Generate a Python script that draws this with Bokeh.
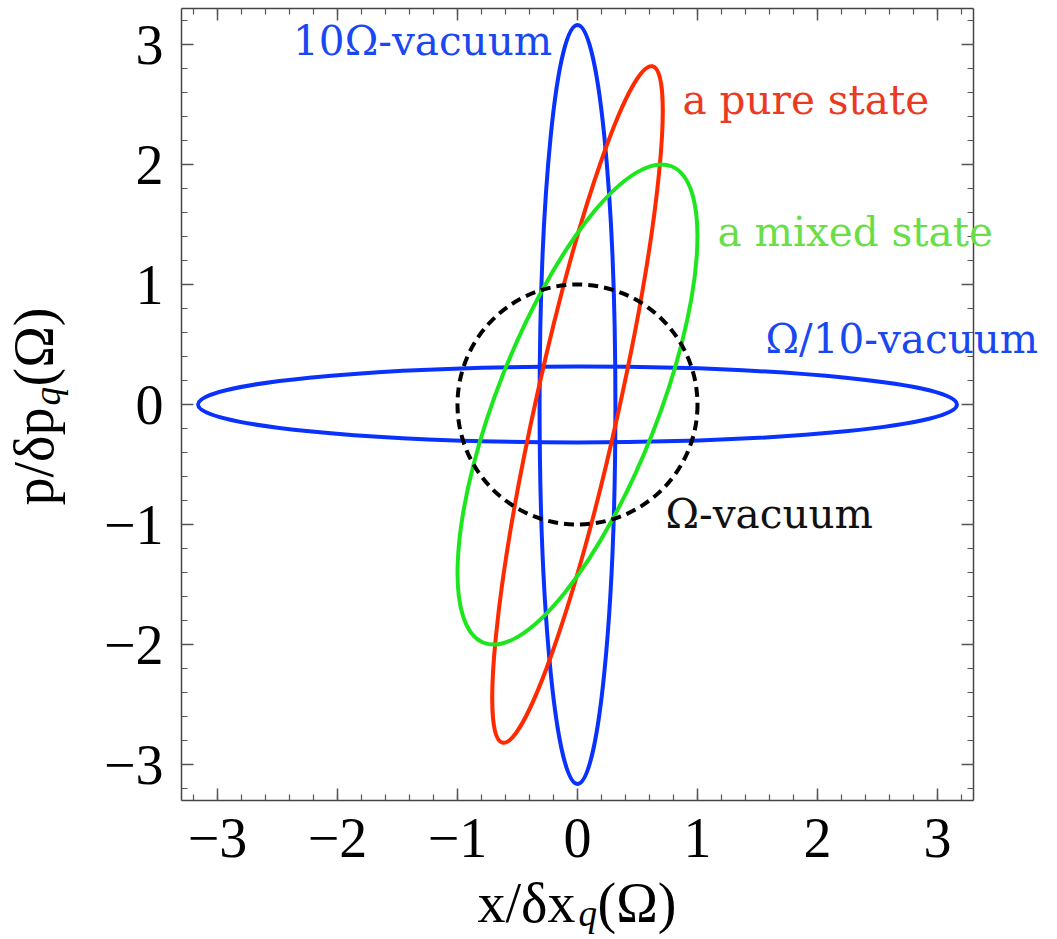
import numpy as np
from bokeh.plotting import figure
from bokeh.models import Range1d, LinearAxis, FixedTicker, Label, CustomJSTickFormatter
from bokeh.embed import file_html
from bokeh.resources import INLINE

# ---- data: uncertainty ellipses (semi-axes in units of the Omega-vacuum) ----
state_names = ["10Ω-vacuum", "Ω/10-vacuum", "a pure state", "a mixed state", "Ω-vacuum"]
semi_axis_a = [3.162, 3.162, 2.887, 2.134, 1.0]     # along the rotated axis
semi_axis_b = [0.316, 0.316, 0.346, 0.669, 1.0]
tilt_deg = [90.0, 0.0, 77.5, 68.5, 0.0]
line_colors = ["#0a32ff", "#0a32ff", "#ff2a00", "#1ee61e", "#000000"]
text_colors = ["#1a48f0", "#1a48f0", "#ea3a22", "#6ade48", "#111111"]
dashes = ["solid", "solid", "solid", "solid", "10 6"]

# label anchors (data coords, left/baseline)
label_x = [-2.37, 1.567, 0.875, 1.167, 0.733]
label_y = [2.906, 0.43, 2.42, 1.32, -1.03]

major_ticks = [-3, -2, -1, 0, 1, 2, 3]
minor_ticks = [round(v, 1) for v in np.arange(-3.2, 3.21, 0.2)]

# plotted box (data) and its place on the page (px)
BOX = (-3.3, 3.3)
W, H = 1057, 939
BOX_L, BOX_R, BOX_T, BOX_B = 181, 973, 8, 800
PPU = (BOX_R - BOX_L) / (BOX[1] - BOX[0])   # px per unit, same on both axes

x_start = BOX[0] - BOX_L / PPU
x_end = BOX[1] + (W - BOX_R) / PPU
y_end = BOX[1] + BOX_T / PPU
y_start = BOX[0] - (H - BOX_B) / PPU

SERIF = "Liberation Serif"
LABEL_FONT = "DejaVu Serif"
BASE_FIX = 0.355   # em; correction for where the renderer places the baseline

p = figure(width=W, height=H, output_backend="svg", toolbar_location=None,
           x_range=Range1d(x_start, x_end), y_range=Range1d(y_start, y_end),
           min_border=0, min_border_left=0, min_border_right=0,
           min_border_top=0, min_border_bottom=0,
           x_axis_type=None, y_axis_type=None)
p.background_fill_color = "white"
p.border_fill_color = "white"
p.outline_line_color = None
p.xgrid.visible = False
p.ygrid.visible = False

fmt = CustomJSTickFormatter(code="return tick < 0 ? '\\u2212' + (-tick) : '' + tick;")
blank = CustomJSTickFormatter(code="return '';")

def make_axis(show_labels, loc):
    ax = LinearAxis(ticker=FixedTicker(ticks=major_ticks, minor_ticks=minor_ticks),
                    formatter=fmt if show_labels else blank,
                    fixed_location=loc, bounds=BOX)
    ax.major_tick_in = 12
    ax.major_tick_out = 0
    ax.minor_tick_in = 6
    ax.minor_tick_out = 0
    ax.major_tick_line_color = "#555555"
    ax.minor_tick_line_color = "#555555"
    ax.major_tick_line_width = 1.5
    ax.minor_tick_line_width = 1.2
    ax.axis_line_color = "#444444"
    ax.axis_line_width = 1.5
    if show_labels:
        ax.major_label_text_font = SERIF
        ax.major_label_text_font_size = "56px"
        ax.major_label_text_color = "black"
        ax.major_label_standoff = 18
    else:
        ax.major_label_standoff = 0
    return ax

p.add_layout(make_axis(True, BOX[0]), "below")
p.add_layout(make_axis(True, BOX[0]), "left")
p.add_layout(make_axis(False, BOX[1]), "above")
p.add_layout(make_axis(False, BOX[1]), "right")

for a, b, t, c, d in zip(semi_axis_a, semi_axis_b, tilt_deg, line_colors, dashes):
    p.ellipse(x=[0], y=[0], width=[2 * a], height=[2 * b], angle=[t], angle_units="deg",
              fill_color=None, line_color=c, line_width=4, line_dash=d)

LBL_SIZE = 40.5
for name, lx, ly, tc in zip(state_names, label_x, label_y, text_colors):
    p.add_layout(Label(x=lx, y=ly + BASE_FIX * LBL_SIZE / PPU, text=name, text_font=LABEL_FONT,
                       text_font_size=f"{LBL_SIZE}px",
                       text_color=tc, text_align="left", text_baseline="alphabetic"))

# axis titles (built from pieces to get the italic subscript q); page px -> data
def dx(px):
    return BOX[0] + (px - BOX_L) / PPU

def dy(py):
    return BOX[1] - (py - BOX_T) / PPU

def title_piece(px, py, text, size, italic=False, angle=0):
    fix = BASE_FIX * size
    if angle == 0:
        py = py - fix
    else:
        px = px - fix
    return Label(x=dx(px), y=dy(py), text=text, text_font=SERIF, text_font_size=f"{size}px",
                 text_font_style="italic" if italic else "normal",
                 angle=angle, angle_units="deg",
                 text_color="black", text_align="left", text_baseline="alphabetic")

p.add_layout(title_piece(477, 922, "x/δx", 56))
p.add_layout(title_piece(578, 926, "q", 37, italic=True))
p.add_layout(title_piece(597, 922, "(Ω)", 56))

p.add_layout(title_piece(53, 505, "p/δp", 56, angle=90))
p.add_layout(title_piece(60, 405, "q", 37, italic=True, angle=90))
p.add_layout(title_piece(53, 386, "(Ω)", 56, angle=90))

open("out.html", "w").write(file_html(p, INLINE))
